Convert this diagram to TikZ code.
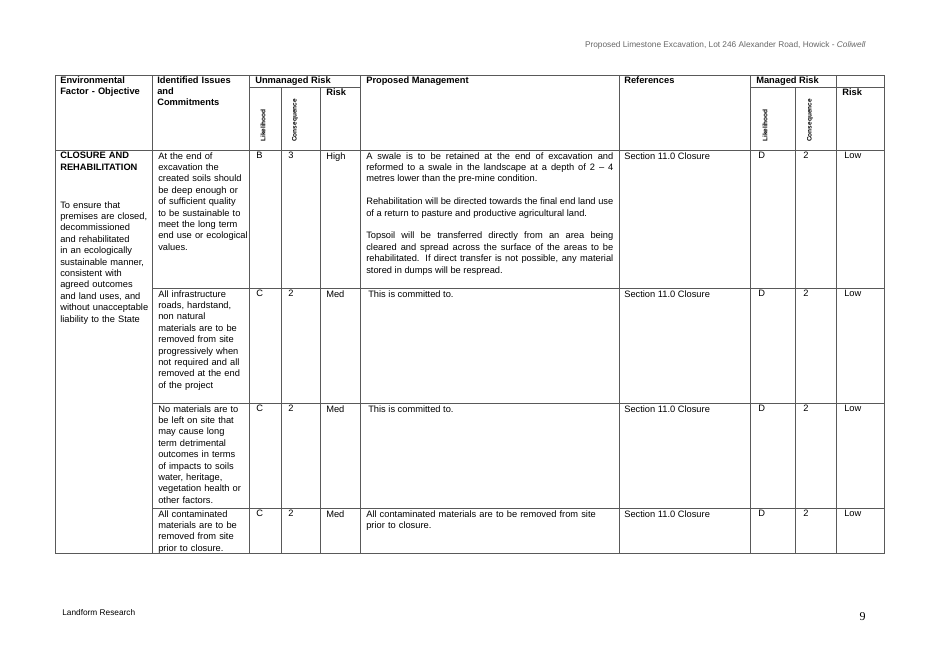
\documentclass[tikz,border=0pt]{standalone}
\usepackage{fontspec}
\setmainfont{Liberation Sans}
\newfontfamily\serifpage{Liberation Serif}
\begin{document}
\hyphenpenalty=10000\relax
\exhyphenpenalty=10000\relax
\begin{tikzpicture}[x=1pt,y=-1pt,line width=0.6pt,
  cell/.style={anchor=north west,inner sep=0pt,align=left,font=\fontsize{9.3}{11.4}\selectfont},
  head/.style={cell,font=\fontsize{9.3}{11.4}\selectfont\bfseries},
  just/.style={cell,align=justify},
  rot/.style={anchor=west,rotate=90,inner sep=0pt,font=\fontsize{6.5}{7}\selectfont\bfseries}]
\useasboundingbox (0,0) rectangle (929,657);

% page header and footer
\node[anchor=east,inner sep=0pt,font=\fontsize{8.3}{9}\selectfont,text=gray!80!black] (title) at (866,45) {Proposed Limestone Excavation, Lot 246 Alexander Road, Howick - \textit{Coliwell}};
\node[anchor=west,inner sep=0pt,font=\fontsize{8.3}{9}\selectfont] (firm) at (62,613) {Landform Research};
\node[anchor=east,inner sep=0pt,font=\fontsize{12}{13}\serifpage] (page) at (866,617) {9};

% table rules
\draw[gray!70!black] (55,75) rectangle (884,553);
\draw[gray!70!black,line width=1pt] (55,150) -- (884,150);
\foreach \x in {152,249,360,619,750,836} \draw[gray!70!black] (\x,75) -- (\x,553);
\foreach \x in {281,320,795} \draw[gray!70!black] (\x,87) -- (\x,553);
\draw[gray!70!black] (249,87) -- (360,87);
\draw[gray!70!black] (750,87) -- (884,87);
\foreach \y in {288,403,508} \draw[gray!70!black] (152,\y) -- (884,\y);

% header cells
\node[head,text width=92pt] (hfac) at (60,76) {Environmental\\Factor - Objective};
\node[head,text width=92pt] (hiss) at (157,76) {Identified Issues\\and\\Commitments};
\node[head] (hunm) at (255,76) {Unmanaged Risk};
\node[rot] (hl1) at (263,142) {Likelihood};
\node[rot] (hc1) at (295,142) {Consequence};
\node[head] (hr1) at (326,88) {Risk};
\node[head] (hpro) at (366,76) {Proposed Management};
\node[head] (href) at (624,76) {References};
\node[head] (hman) at (756,76) {Managed Risk};
\node[rot] (hl2) at (765,142) {Likelihood};
\node[rot] (hc2) at (810,142) {Consequence};
\node[head] (hr2) at (842,88) {Risk};

% first column
\node[head,text width=90pt] (fac) at (60,152) {CLOSURE AND REHABILITATION};
\node[cell,text width=90pt] (obj) at (60,201) {To ensure that premises are closed, decommissioned and rehabilitated in an ecologically sustainable manner, consistent with agreed outcomes and land uses, and without unacceptable liability to the State};

% rows
\node[cell,text width=90pt] (iss1) at (158,152) {At the end of excavation the created soils should be deep enough or of sufficient quality to be sustainable to meet the long term end use or ecological values.};
\node[cell,text width=90pt] (iss2) at (158,290) {All infrastructure roads, hardstand, non natural materials are to be removed from site progressively when not required and all removed at the end of the project};
\node[cell,text width=90pt] (iss3) at (158,405) {No materials are to be left on site that may cause long term detrimental outcomes in terms of impacts to soils water, heritage, vegetation health or other factors.};
\node[cell,text width=90pt] (iss4) at (158,510) {All contaminated materials are to be removed from site prior to closure.};

\foreach \n/\y/\l/\c/\r in {1/152/B/3/High,2/290/C/2/Med,3/405/C/2/Med,4/510/C/2/Med}{
  \node[cell] (l\n) at (256,\y) {\l};
  \node[cell] (c\n) at (288,\y) {\c};
  \node[cell] (r\n) at (326,\y) {\r};
  \node[cell] (ref\n) at (624,\y) {Section 11.0 Closure};
  \node[cell] (ml\n) at (758,\y) {D};
  \node[cell] (mc\n) at (803,\y) {2};
  \node[cell] (mr\n) at (844,\y) {Low};
}

\node[just,text width=247pt] (pro1) at (366,152) {A swale is to be retained at the end of excavation and reformed to a swale in the landscape at a depth of 2 -- 4 metres lower than the pre-mine condition.\par\vspace{11.4pt}
Rehabilitation will be directed towards the final end land use of a return to pasture and productive agricultural land.\par\vspace{11.4pt}
Topsoil will be transferred directly from an area being cleared and spread across the surface of the areas to be rehabilitated. If direct transfer is not possible, any material stored in dumps will be respread.};
\node[cell] (pro2) at (368,290) {This is committed to.};
\node[cell] (pro3) at (368,405) {This is committed to.};
\node[cell,text width=247pt] (pro4) at (366,510) {All contaminated materials are to be removed from site\\prior to closure.};
\end{tikzpicture}
\end{document}
